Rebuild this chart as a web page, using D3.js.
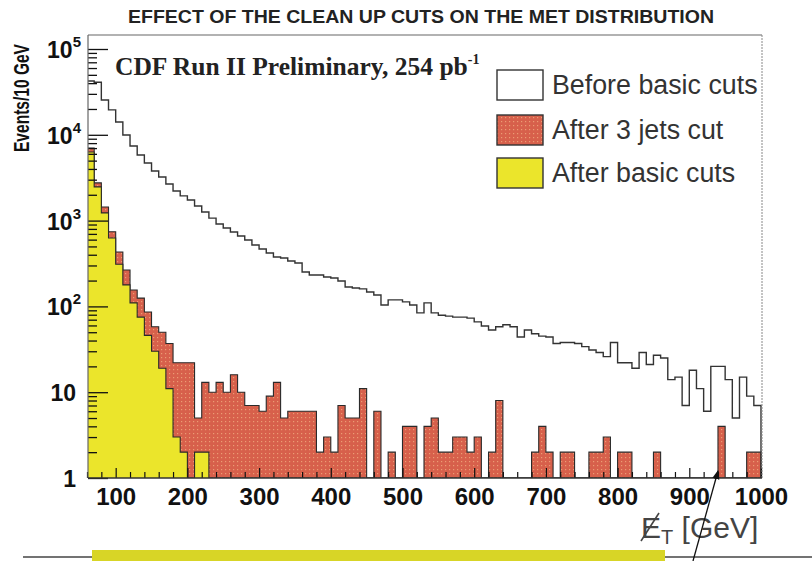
<!DOCTYPE html>
<html><head><meta charset="utf-8">
<script src="https://cdn.jsdelivr.net/npm/d3@7"></script>
<style>body{margin:0;background:#fff;} svg{display:block;}</style>
</head><body>
<svg id="c" width="812" height="561"></svg>
<script>
// ---- data ----
const binLow = [60,70,80,90,100,110,120,130,140,150,160,170,180,190,200,210,220,230,240,250,260,270,280,290,300,310,320,330,340,350,360,370,380,390,400,410,420,430,440,450,460,470,480,490,500,510,520,530,540,550,560,570,580,590,600,610,620,630,640,650,660,670,680,690,700,710,720,730,740,750,760,770,780,790,800,810,820,830,840,850,860,870,880,890,900,910,920,930,940,950,960,970,980,990];
const before = [42400,41000,25400,19500,14100,9950,7400,5820,4690,3790,
  3220,2670,2210,1940,1740,1480,1260,1070,913,820,
  737,661,594,520,467,419,377,367,338,320,
  252,232,232,220,214,198,168,164,160,147,
  136,104,119,119,113,104,84,110,84,79,
  77,75,75,73,66,59,53,58,61,58,
  44,53,48,45,44,37,38,38,37,34,
  31,29,26,38,22,22,19,29,21,27,
  25,14,15,7,18,11,6,20,20,14,
  5,15,9,7];
const after3jets = [7000,2750,1440,740,430,266,155,125,86,58,
  50,37,22,22,22,5,13,10,13,10,
  16,10,7,7,6,9,13,5,6,6,
  6,6,2,3,2,7,5,5,11,0,
  6,0,2,0,4,4,0,4,5,2,
  2,3,3,2,3,0,2,8,0,0,
  0,0,2,4,2,0,2,2,0,0,
  2,2,3,0,2,2,0,0,0,2,
  0,0,0,0,0,0,0,0,4,0,
  0,0,2,2];
const afterBasic = [6300,2470,1230,627,310,178,110,75,46,30,
  19,11,3,2,0,2,2,0,0,0,
  0,0,0,0,0,0,0,0,0,0,
  0,0,0,0,0,0,0,0,0,0,
  0,0,0,0,0,0,0,0,0,0,
  0,0,0,0,0,0,0,0,0,0,
  0,0,0,0,0,0,0,0,0,0,
  0,0,0,0,0,0,0,0,0,0,
  0,0,0,0,0,0,0,0,0,0,
  0,0,0,0];
const xTickValues = [100,200,300,400,500,600,700,800,900,1000];
const xMinorTicks = [60,80,120,140,160,180,220,240,260,280,320,340,360,380,420,440,460,480,520,540,560,580,620,640,660,680,720,740,760,780,820,840,860,880,920,940,960,980];
const yTickValues = [1,10,100,1000,10000,100000];
const yTickBase = ["1","10","10","10","10","10"];
const yTickExp = ["","","2","3","4","5"];
const legendLabels = ["Before basic cuts","After 3 jets cut","After basic cuts"];

// ---- drawing ----
(function(){
const svg = d3.select("#c");
const x = d3.scaleLinear().domain([60,1000]).range([87,761]);
const y = d3.scaleLog().domain([1,1e5]).range([478,49]);
const yv = v => y(Math.max(v,1));
const pTop = 35, pLeft = 88, pRight = 762, pBottom = 478;

const defs = svg.append("defs");
const pat = defs.append("pattern").attr("id","dots").attr("width",4).attr("height",4).attr("patternUnits","userSpaceOnUse");
pat.append("rect").attr("width",4).attr("height",4).attr("fill","#d7604b");
pat.append("rect").attr("x",1).attr("y",1).attr("width",1.2).attr("height",1.2).attr("fill","#eb9c74");
defs.append("clipPath").attr("id","plot").append("rect").attr("x",pLeft).attr("y",pTop).attr("width",pRight-pLeft).attr("height",pBottom-pTop);
defs.append("marker").attr("id","arr").attr("viewBox","0 0 10 10").attr("refX",9).attr("refY",5)
  .attr("markerWidth",7).attr("markerHeight",7).attr("orient","auto")
  .append("path").attr("d","M0,1 L10,5 L0,9 z").attr("fill","#111");

function pts(vals){
  const p = [[binLow[0],0]];
  binLow.forEach((lo,i)=>p.push([lo, vals[i]]));
  p.push([1000, vals[vals.length-1]]);
  p.push([1000, 0]);
  return p;
}
const area = d3.area().curve(d3.curveStepAfter).x(d=>x(d[0])).y0(y(1)).y1(d=>yv(d[1]));
const line = d3.line().curve(d3.curveStepAfter).x(d=>x(d[0])).y(d=>yv(d[1]));

const plot = svg.append("g").attr("clip-path","url(#plot)");
plot.append("path").attr("d",area(pts(after3jets))).attr("fill","url(#dots)");
plot.append("path").attr("d",line(pts(after3jets))).attr("fill","none").attr("stroke","#2a2a2a").attr("stroke-width",1.1);
plot.append("path").attr("d",area(pts(afterBasic))).attr("fill","#ebe52b");
plot.append("path").attr("d",line(pts(afterBasic))).attr("fill","none").attr("stroke","#2a2a2a").attr("stroke-width",1.1);
plot.append("path").attr("d",line(pts(before))).attr("fill","none").attr("stroke","#333").attr("stroke-width",1.4);

// y axis ticks
const yMinor = [];
[1,10,100,1000,10000].forEach(d=>{for(let k=2;k<=9;k++) yMinor.push(d*k);});
const ya = svg.append("g").attr("transform",`translate(${pLeft},0)`).call(d3.axisRight(y).tickValues(yTickValues).tickSize(20).tickFormat(""));
const ym = svg.append("g").attr("transform",`translate(${pLeft},0)`).call(d3.axisRight(y).tickValues(yMinor).tickSize(9).tickFormat(""));
[ya,ym].forEach(g=>{g.select(".domain").remove(); g.selectAll("line").attr("stroke","#111").attr("stroke-width",1.3);});

// x axis ticks
const xa = svg.append("g").attr("transform",`translate(0,${pBottom})`).call(d3.axisTop(x).tickValues(xTickValues).tickSize(10).tickFormat(""));
const xm = svg.append("g").attr("transform",`translate(0,${pBottom})`).call(d3.axisTop(x).tickValues(xMinorTicks).tickSize(6).tickFormat(""));
[xa,xm].forEach(g=>{g.select(".domain").remove(); g.selectAll("line").attr("stroke","#111").attr("stroke-width",1.2);});
const xl = svg.append("g").attr("transform",`translate(0,${pBottom})`).call(d3.axisBottom(x).tickValues(xTickValues).tickSize(0).tickPadding(10).tickFormat(d=>String(d)));
xl.select(".domain").remove();
xl.selectAll("text").attr("font-family","Liberation Sans, Arial, sans-serif").attr("font-weight","bold").attr("font-size",24).attr("fill","#111");

// frame
svg.append("line").attr("x1",pLeft).attr("x2",pRight).attr("y1",pTop).attr("y2",pTop).attr("stroke","#999").attr("stroke-width",1.6);
svg.append("line").attr("x1",pRight).attr("x2",pRight).attr("y1",pTop).attr("y2",pBottom).attr("stroke","#888").attr("stroke-width",1).attr("stroke-dasharray","2,1");
svg.append("line").attr("x1",pLeft).attr("x2",pLeft).attr("y1",pTop).attr("y2",pBottom).attr("stroke","#666").attr("stroke-width",1.2);
svg.append("line").attr("x1",pLeft).attr("x2",pRight).attr("y1",pBottom).attr("y2",pBottom).attr("stroke","#333").attr("stroke-width",1.6);

// y labels
yTickValues.forEach((v,i)=>{
  const t = svg.append("text").attr("x", yTickExp[i] ? 81 : 76).attr("y", y(v)+9)
    .attr("text-anchor","end").attr("font-family","Liberation Sans, Arial, sans-serif")
    .attr("font-weight","bold").attr("font-size",23).attr("fill","#111");
  t.append("tspan").text(yTickBase[i]);
  if (yTickExp[i]) t.append("tspan").attr("font-size",15).attr("dy",-11).text(yTickExp[i]);
});

// y title (narrow strip at the left edge)
svg.append("text").attr("transform","translate(29,152) rotate(-90)")
  .attr("font-family","Liberation Sans, Arial, sans-serif").attr("font-weight","bold").attr("font-size",22)
  .attr("textLength",108).attr("lengthAdjust","spacingAndGlyphs").attr("fill","#111").text("Events/10 GeV");

// title
svg.append("text").attr("x",128).attr("y",23).attr("font-family","Liberation Sans, Arial, sans-serif")
  .attr("font-weight","bold").attr("font-size",18).attr("fill","#222")
  .attr("textLength",586).attr("lengthAdjust","spacingAndGlyphs")
  .text("EFFECT OF THE CLEAN UP CUTS ON THE MET DISTRIBUTION");

// CDF label
const cdf = svg.append("text").attr("x",115).attr("y",75).attr("font-family","Liberation Serif, Times New Roman, serif")
  .attr("font-weight","bold").attr("font-size",25.5).attr("fill","#222");
cdf.append("tspan").text("CDF Run II Preliminary, 254 pb");
cdf.append("tspan").attr("font-size",14).attr("dy",-11).text("-1");

// legend
const lg = svg.append("g");
const swY = [70,115,158];
const swFill = ["#fff","url(#dots)","#ebe52b"];
legendLabels.forEach((s,i)=>{
  lg.append("rect").attr("x",497).attr("y",swY[i]).attr("width",46).attr("height",30)
    .attr("fill",swFill[i]).attr("stroke","#333").attr("stroke-width",1.4);
  lg.append("text").attr("x",552).attr("y",swY[i]+24).attr("font-family","Liberation Sans, Arial, sans-serif")
    .attr("font-size",26.8).attr("fill","#333").text(s);
});

// x title
const xt = svg.append("text").attr("x",641).attr("y",538).attr("font-family","Liberation Sans, Arial, sans-serif")
  .attr("font-size",30).attr("fill","#444");
xt.append("tspan").text("E");
xt.append("tspan").attr("font-size",20).attr("dy",6).text("T");
xt.append("tspan").attr("dy",-6).text(" [GeV]");
svg.append("line").attr("x1",641).attr("y1",541).attr("x2",659).attr("y2",513).attr("stroke","#444").attr("stroke-width",1.6);

// bottom decorations
svg.append("line").attr("x1",23).attr("x2",812).attr("y1",557).attr("y2",557).attr("stroke","#444").attr("stroke-width",1.6);
svg.append("rect").attr("x",92).attr("y",550).attr("width",573).attr("height",11).attr("fill","#d8d526");
svg.append("line").attr("x1",693).attr("y1",561).attr("x2",718).attr("y2",471).attr("stroke","#111").attr("stroke-width",1.3).attr("marker-end","url(#arr)");
})();
</script>
</body></html>
